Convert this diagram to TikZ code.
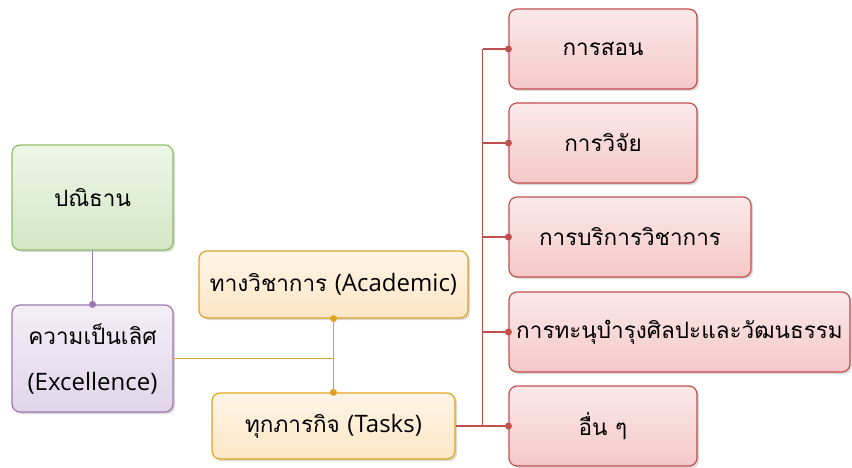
\documentclass[tikz,border=0pt]{standalone}
\usepackage{fontspec}
\setmainfont[Script=Thai]{Loma}
\newfontfamily\latinfont{Open Sans}
\newcommand{\lat}[1]{{\latinfont\fontsize{24}{46}\selectfont #1}}
\usetikzlibrary{shadows}

\definecolor{greenfill}{HTML}{D3E7C5}
\definecolor{greenline}{HTML}{8DBE68}
\definecolor{purplefill}{HTML}{E2D5EA}
\definecolor{purpleline}{HTML}{9E78B0}
\definecolor{orangefill}{HTML}{FDE6C4}
\definecolor{orangeline}{HTML}{DDA424}
\definecolor{redfill}{HTML}{F5C8C8}
\definecolor{redline}{HTML}{C0504D}

\tikzset{
  box/.style={draw, rounded corners=8pt, line width=1.2pt, align=center,
    inner sep=0pt, font=\fontsize{22.5}{46}\selectfont,
    drop shadow={opacity=0.3, shadow xshift=2pt, shadow yshift=-2pt}},
  greenbox/.style={box, draw=greenline, top color=greenfill!40, middle color=greenfill, bottom color=greenfill},
  purplebox/.style={box, draw=purpleline, top color=purplefill!40, middle color=purplefill, bottom color=purplefill},
  orangebox/.style={box, draw=orangeline, top color=orangefill!40, middle color=orangefill, bottom color=orangefill},
  redbox/.style={box, draw=redline, top color=redfill!40, middle color=redfill, bottom color=redfill},
  dot/.style={circle, fill, inner sep=0pt, minimum size=7pt},
  link/.style={line width=1.5pt}
}

\begin{document}
\begin{tikzpicture}[x=1pt, y=1pt]
\useasboundingbox (0,0) rectangle (852,467);

    % these are the boxes
    \node[greenbox, minimum width=161, minimum height=105] (vision) at (92.5,269.5) {ปณิธาน};
    \node[purplebox, minimum width=161, minimum height=107] (excel) at (92.5,108.5) {ความเป็นเลิศ\\\lat{(Excellence)}};
    \node[orangebox, minimum width=269, minimum height=67] (acad) at (333.5,182.5) {ทางวิชาการ \lat{(Academic)}};
    \node[orangebox, minimum width=243, minimum height=66] (tasks) at (333.5,41) {ทุกภารกิจ \lat{(Tasks)}};

    \node[redbox, minimum width=188, minimum height=80] (teach) at (603,418) {การสอน};
    \node[redbox, minimum width=188, minimum height=80] (research) at (603,324) {การวิจัย};
    \node[redbox, minimum width=242, minimum height=80] (service) at (630,230) {การบริการวิชาการ};
    \node[redbox, minimum width=341, minimum height=80] (culture) at (679.5,135) {การทะนุบำรุงศิลปะและวัฒนธรรม};
    \node[redbox, minimum width=188, minimum height=80] (other) at (603,41) {อื่น ๆ};

    % these are the connectors
    \draw[purpleline, link] (vision) -- (excel);
    \node[dot, purpleline] at (excel.north) {};

    \draw[orangeline, link] (excel.east) -- (excel.east -| acad.south);
    \draw[orangeline, link] (acad.south) -- (tasks.north);
    \node[dot, orangeline] at (acad.south) {};
    \node[dot, orangeline] at (tasks.north) {};

    \draw[redline, link] (tasks.east) -- ++(27,0) coordinate (trunk);
    \draw[redline, link] (trunk) -- (trunk |- teach.west);
    \foreach \n in {teach,research,service,culture,other} {
        \draw[redline, link] (trunk |- \n.west) -- (\n.west);
        \node[dot, redline] at (\n.west) {};
    }

\end{tikzpicture}
\end{document}
